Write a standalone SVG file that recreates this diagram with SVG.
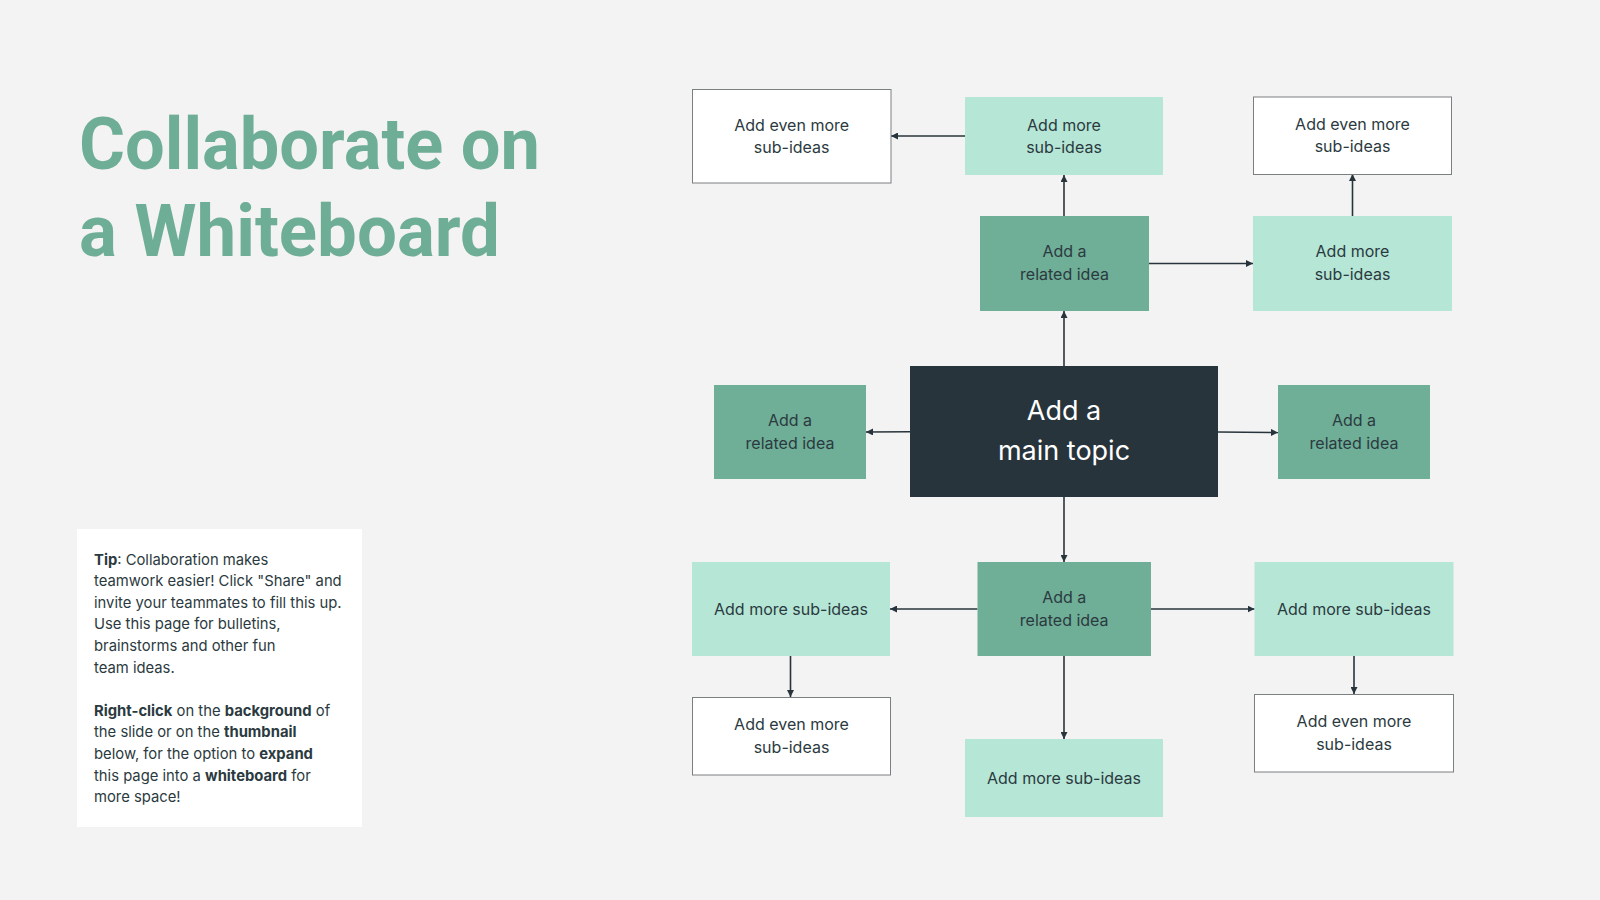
<svg xmlns="http://www.w3.org/2000/svg" width="1600" height="900" viewBox="0 0 1600 900">
<style>
  .title { font-family: Roboto, "Liberation Sans", sans-serif; font-weight: 700; font-size: 72px; fill: #6FAE96; }
  .tip { font-family: Inter, "Liberation Sans", sans-serif; font-size: 14.8px; fill: #2B3A40; }
  .tip .b { font-weight: 700; }
  .node text { font-family: Inter, "Liberation Sans", sans-serif; font-size: 16px; fill: #2B3A40; text-anchor: middle; }
  .related rect { fill: #6FAE97; }
  .sub rect { fill: #B5E6D6; }
  .even rect { fill: #FFFFFF; stroke: #7A7F80; stroke-width: 1; }
  .main rect { fill: #28343B; }
  .main text { fill: #FFFFFF; font-size: 27px; }
  .conn line { stroke: #28343B; stroke-width: 1.6; }
</style>
<defs>
  <marker id="arr" viewBox="0 0 10 10" refX="10" refY="5" markerWidth="7" markerHeight="7" markerUnits="userSpaceOnUse" orient="auto">
    <path d="M0,0 L10,5 L0,10 z" fill="#28343B"/>
  </marker>
</defs>
<rect x="0" y="0" width="1600" height="900" fill="#F3F3F3"/>

<g id="title">
  <text class="title" x="79" y="169" textLength="461" lengthAdjust="spacingAndGlyphs">Collaborate on</text>
  <text class="title" x="79" y="256" textLength="421" lengthAdjust="spacingAndGlyphs">a Whiteboard</text>
</g>

<g id="tip">
  <rect x="77" y="529" width="285" height="298" fill="#FFFFFF"/>
  <text class="tip" x="94" y="564.5"><tspan class="b">Tip</tspan>: Collaboration makes</text>
  <text class="tip" x="94" y="586.1">teamwork easier! Click "Share" and</text>
  <text class="tip" x="94" y="607.7">invite your teammates to fill this up.</text>
  <text class="tip" x="94" y="629.3">Use this page for bulletins,</text>
  <text class="tip" x="94" y="650.9">brainstorms and other fun</text>
  <text class="tip" x="94" y="672.5">team ideas.</text>
  <text class="tip" x="94" y="715.7"><tspan class="b">Right-click</tspan> on the <tspan class="b">background</tspan> of</text>
  <text class="tip" x="94" y="737.3">the slide or on the <tspan class="b">thumbnail</tspan></text>
  <text class="tip" x="94" y="758.9">below, for the option to <tspan class="b">expand</tspan></text>
  <text class="tip" x="94" y="780.5">this page into a <tspan class="b">whiteboard</tspan> for</text>
  <text class="tip" x="94" y="802.1">more space!</text>
</g>

<g id="connectors" class="conn">
  <line x1="1064" y1="366" x2="1064" y2="311" marker-end="url(#arr)"/>
  <line x1="1064" y1="216" x2="1064" y2="175" marker-end="url(#arr)"/>
  <line x1="965" y1="136" x2="891" y2="136" marker-end="url(#arr)"/>
  <line x1="1149" y1="263.5" x2="1253" y2="263.5" marker-end="url(#arr)"/>
  <line x1="1352.5" y1="216" x2="1352.5" y2="174" marker-end="url(#arr)"/>
  <line x1="910" y1="431.7" x2="866" y2="432" marker-end="url(#arr)"/>
  <line x1="1218" y1="432" x2="1278" y2="432.5" marker-end="url(#arr)"/>
  <line x1="1064" y1="497" x2="1064" y2="562" marker-end="url(#arr)"/>
  <line x1="977.5" y1="609" x2="890" y2="609" marker-end="url(#arr)"/>
  <line x1="1151" y1="609" x2="1254.5" y2="609" marker-end="url(#arr)"/>
  <line x1="790.5" y1="656" x2="790.5" y2="697" marker-end="url(#arr)"/>
  <line x1="1064" y1="656" x2="1064" y2="739" marker-end="url(#arr)"/>
  <line x1="1354" y1="656" x2="1354" y2="694" marker-end="url(#arr)"/>
</g>

<g id="main" class="node main">
  <rect x="910" y="366" width="308" height="131"/>
  <text x="1064" y="420">Add a</text>
  <text x="1064" y="460">main topic</text>
</g>

<g id="related-top" class="node related">
  <rect x="980" y="216" width="169" height="95"/>
  <text x="1064.5" y="257.3">Add a</text>
  <text x="1064.5" y="280">related idea</text>
</g>
<g id="related-left" class="node related">
  <rect x="714" y="385" width="152" height="94"/>
  <text x="790" y="426">Add a</text>
  <text x="790" y="449">related idea</text>
</g>
<g id="related-right" class="node related">
  <rect x="1278" y="385" width="152" height="94"/>
  <text x="1354" y="426">Add a</text>
  <text x="1354" y="449">related idea</text>
</g>
<g id="related-bottom" class="node related">
  <rect x="977.5" y="562" width="173.5" height="94"/>
  <text x="1064.2" y="603">Add a</text>
  <text x="1064.2" y="626">related idea</text>
</g>

<g id="sub-top" class="node sub">
  <rect x="965" y="97" width="198" height="78"/>
  <text x="1064" y="130.7">Add more</text>
  <text x="1064" y="153.3">sub-ideas</text>
</g>
<g id="sub-top-right" class="node sub">
  <rect x="1253" y="216" width="199" height="95"/>
  <text x="1352.5" y="257.3">Add more</text>
  <text x="1352.5" y="280">sub-ideas</text>
</g>
<g id="sub-bottom-left" class="node sub">
  <rect x="692" y="562" width="198" height="94"/>
  <text x="791" y="614.5">Add more sub-ideas</text>
</g>
<g id="sub-bottom-right" class="node sub">
  <rect x="1254.5" y="562" width="199" height="94"/>
  <text x="1354" y="614.5">Add more sub-ideas</text>
</g>
<g id="sub-bottom" class="node sub">
  <rect x="965" y="739" width="198" height="78"/>
  <text x="1064" y="783.5">Add more sub-ideas</text>
</g>

<g id="even-top-left" class="node even">
  <rect x="692.5" y="89.5" width="198.5" height="93.5"/>
  <text x="791.7" y="130.7">Add even more</text>
  <text x="791.7" y="153.3">sub-ideas</text>
</g>
<g id="even-top-right" class="node even">
  <rect x="1253.5" y="97" width="198" height="77.5"/>
  <text x="1352.5" y="129.7">Add even more</text>
  <text x="1352.5" y="152.3">sub-ideas</text>
</g>
<g id="even-bottom-left" class="node even">
  <rect x="692.5" y="697.5" width="198" height="77.5"/>
  <text x="791.5" y="730.3">Add even more</text>
  <text x="791.5" y="753">sub-ideas</text>
</g>
<g id="even-bottom-right" class="node even">
  <rect x="1254.5" y="694.5" width="199" height="77.5"/>
  <text x="1354" y="727.3">Add even more</text>
  <text x="1354" y="750">sub-ideas</text>
</g>
</svg>
